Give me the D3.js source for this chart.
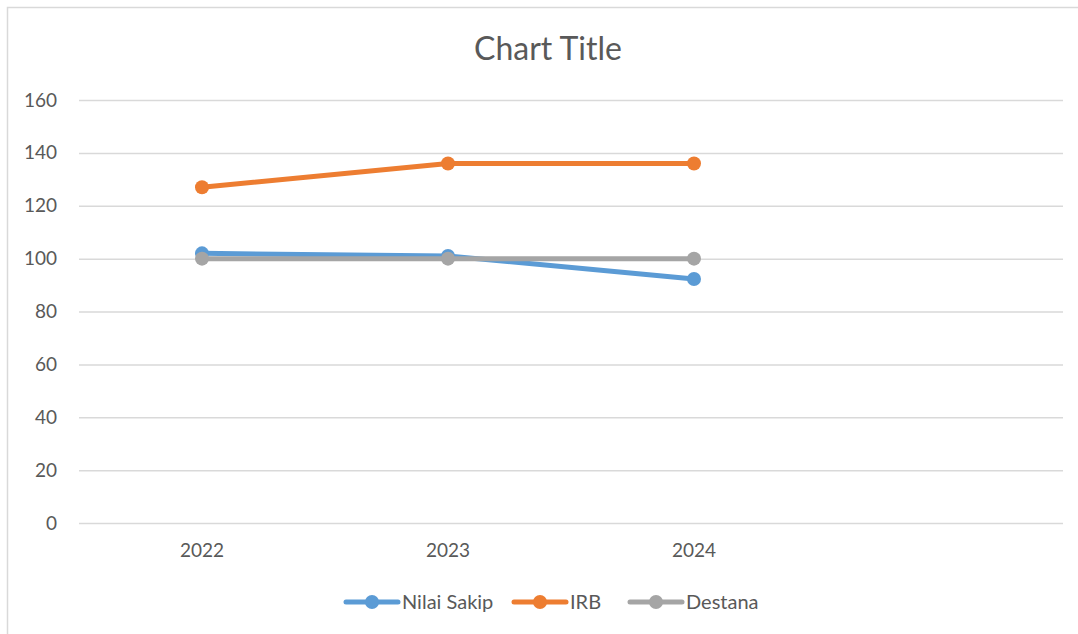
<!DOCTYPE html>
<html>
<head>
<meta charset="utf-8">
<script src="https://cdn.jsdelivr.net/npm/d3@7"></script>
<style>
  body { margin: 0; background: #fff; }
  svg { font-family: "Lato", "Open Sans", sans-serif; }
</style>
</head>
<body>
<div id="chart"></div>
<script>
// categories (last slot is empty in the original sheet)
var years = ["2022", "2023", "2024", ""];
var yTicks = [0, 20, 40, 60, 80, 100, 120, 140, 160];

// series values
var nilaiSakip = [102, 101, 92.3];
var irb = [127, 136, 136];
var destana = [100, 100, 100];

var seriesNames = ["Nilai Sakip", "IRB", "Destana"];
var seriesColors = ["#5B9BD5", "#ED7D31", "#A5A5A5"];

var series = [
  { name: seriesNames[0], color: seriesColors[0], values: nilaiSakip },
  { name: seriesNames[1], color: seriesColors[1], values: irb },
  { name: seriesNames[2], color: seriesColors[2], values: destana }
];

var W = 1078, H = 634;
var margin = {top: 100, right: 15, bottom: 111, left: 79},
    width = W - margin.left - margin.right,
    height = H - margin.top - margin.bottom;

var svg = d3.select("#chart").append("svg")
    .attr("width", W)
    .attr("height", H);

// outer chart border (only top and left visible)
svg.append("path")
    .attr("d", "M7.5," + H + "V7.5H" + W)
    .attr("fill", "none")
    .attr("stroke", "#D9D9D9")
    .attr("stroke-width", 1.5);

// title
svg.append("text")
    .attr("x", 548)
    .attr("y", 60)
    .attr("text-anchor", "middle")
    .style("font-size", "32px")
    .style("fill", "#595959")
    .text("Chart Title");

var g = svg.append("g")
    .attr("transform", "translate(" + margin.left + "," + margin.top + ")");

var x = d3.scaleBand()
    .domain(d3.range(years.length))
    .range([0, width])
    .padding(0);

var y = d3.scaleLinear()
    .domain([0, 160])
    .range([height, 0]);

// gridlines
g.append("g")
    .call(d3.axisLeft(y).tickValues(yTicks).tickSize(-width).tickFormat(""))
    .call(function(s) { s.select(".domain").remove(); })
    .selectAll("line")
    .attr("stroke", "#D9D9D9")
    .attr("stroke-width", 1.5);

// y axis labels
g.append("g")
    .call(d3.axisLeft(y).tickValues(yTicks).tickSize(0).tickPadding(22))
    .call(function(s) { s.select(".domain").remove(); })
    .selectAll("text")
    .style("font-size", "19px")
    .style("font-family", "Lato, 'Open Sans', sans-serif")
    .attr("fill", "#595959");

// x axis labels
g.append("g")
    .attr("transform", "translate(0," + height + ")")
    .call(d3.axisBottom(x).tickSize(0).tickPadding(21).tickFormat(function(i) { return years[i]; }))
    .call(function(s) { s.select(".domain").remove(); })
    .selectAll("text")
    .style("font-size", "19px")
    .style("font-family", "Lato, 'Open Sans', sans-serif")
    .attr("fill", "#595959");

var cx = function(i) { return x(i) + x.bandwidth() / 2; };

var line = d3.line()
    .x(function(d, i) { return cx(i); })
    .y(function(d) { return y(d); });

series.forEach(function(s) {
  g.append("path")
      .datum(s.values)
      .attr("fill", "none")
      .attr("stroke", s.color)
      .attr("stroke-width", 5)
      .attr("stroke-linejoin", "round")
      .attr("d", line);

  g.selectAll(null)
      .data(s.values)
      .enter().append("circle")
      .attr("cx", function(d, i) { return cx(i); })
      .attr("cy", function(d) { return y(d); })
      .attr("r", 7)
      .attr("fill", s.color);
});

// legend
var legendX = [346, 514, 630];
var legend = svg.append("g").attr("transform", "translate(0,602)");
series.forEach(function(s, i) {
  var lg = legend.append("g").attr("transform", "translate(" + legendX[i] + ",0)");
  lg.append("line")
      .attr("x1", 0).attr("x2", 52)
      .attr("stroke", s.color)
      .attr("stroke-width", 5)
      .attr("stroke-linecap", "round");
  lg.append("circle")
      .attr("cx", 26)
      .attr("r", 7)
      .attr("fill", s.color);
  lg.append("text")
      .attr("x", 56)
      .attr("dy", "0.35em")
      .style("font-size", "20px")
      .style("fill", "#595959")
      .text(s.name);
});
</script>
</body>
</html>
